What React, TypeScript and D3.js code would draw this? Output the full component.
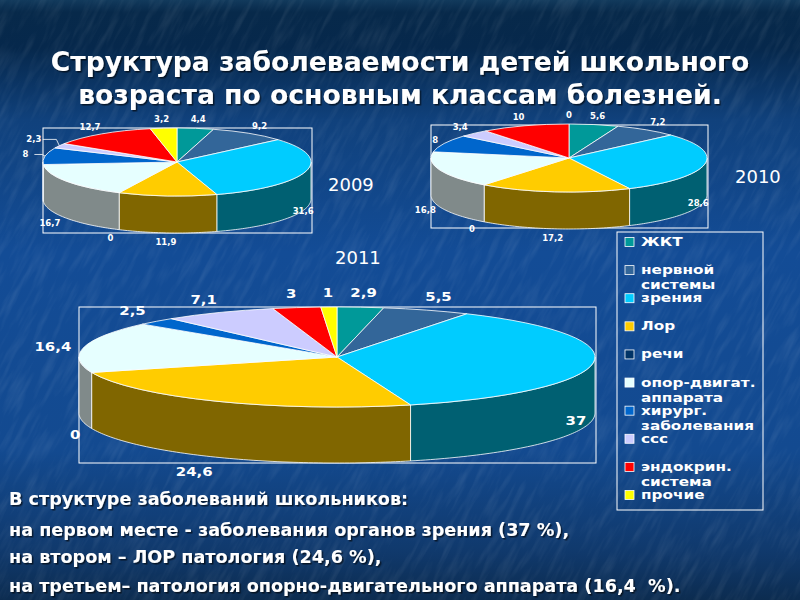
import * as d3 from "d3";

const W = 800;
const H = 600;
const FONT = "'DejaVu Sans', Verdana, sans-serif";

const COLORS = ["#009999", "#336699", "#00ccff", "#ffcc00", "#003366", "#e6ffff", "#0066cc", "#ccccff", "#ff0000", "#ffff00"];
const WALL_COLORS = ["#004d4d", "#1a334d", "#006072", "#806600", "#001a33", "#808a8a", "#003366", "#666680", "#800000", "#808000"];

const values2009 = [4.4, 9.2, 31.6, 11.9, 0, 16.7, 8, 2.3, 12.7, 3.2];
const values2010 = [5.6, 7.2, 28.6, 17.2, 0, 16.8, 8, 3.4, 10, 0];
const values2011 = [2.9, 5.5, 37, 24.6, 0, 16.4, 2.5, 7.1, 3, 1];

const legendEntries = [
  ["ЖКТ"],
  ["нервной", "системы"],
  ["зрения"],
  ["Лор"],
  ["речи"],
  ["опор-двигат.", "аппарата"],
  ["хирург.", "заболевания"],
  ["ссс"],
  ["эндокрин.", "система"],
  ["прочие"],
];

const titleLines = ["Структура заболеваемости детей школьного", "возраста по основным классам болезней."];
const bodyLines = [
  "В структуре заболеваний школьников:",
  "на первом месте - заболевания органов зрения (37 %),",
  "на втором – ЛОР патология (24,6 %),",
  "на третьем– патология опорно-двигательного аппарата (16,4  %).",
];

type PieProps = {
  values: number[];
  cx: number;
  cy: number;
  rx: number;
  ry: number;
  depth: number;
  frame: number[];
  kx: number;
  ky: number;
  fontSize: number;
  stretch: number;
  nudge?: Record<number, number[]>;
  leaders?: number[];
};

const pieGen = d3.pie<number>().sort(null).value((d) => d);

function Pie({ values, cx, cy, rx, ry, depth, frame, kx, ky, fontSize, stretch, nudge = {}, leaders = [] }: PieProps) {
  const slices = pieGen(values);
  const arc = d3.arc();
  const line = d3.line();
  const px = (a: number) => cx + rx * Math.sin(a);
  const py = (a: number) => cy - ry * Math.cos(a);

  return (
    <g>
      <rect x={frame[0]} y={frame[1]} width={frame[2]} height={frame[3]} fill="none" stroke="#fff" strokeWidth={1} />
      {slices.map((s, i) => {
        const a0 = Math.max(s.startAngle, Math.PI / 2);
        const a1 = Math.min(s.endAngle, (3 * Math.PI) / 2);
        if (a1 <= a0) return null;
        const angles = [...d3.range(a0, a1, 0.02), a1];
        const top = angles.map((a) => [px(a), py(a)] as [number, number]);
        const bottom = angles.map((a) => [px(a), py(a) + depth] as [number, number]).reverse();
        return <path key={i} d={line([...top, ...bottom]) + "Z"} fill={WALL_COLORS[i]} stroke="#fff" strokeWidth={0.8} />;
      })}
      {slices.map((s, i) =>
        s.value > 0 ? (
          <path
            key={i}
            d={arc({ innerRadius: 0, outerRadius: rx, startAngle: s.startAngle, endAngle: s.endAngle }) || ""}
            transform={`translate(${cx},${cy}) scale(1,${ry / rx})`}
            fill={COLORS[i]}
            stroke="#fff"
            strokeWidth={0.8}
            vectorEffect="non-scaling-stroke"
          />
        ) : null
      )}
      {slices.map((s, i) => {
        const mid = (s.startAngle + s.endAngle) / 2;
        const front = mid > Math.PI / 2 && mid < (3 * Math.PI) / 2;
        const n = nudge[i] || [0, 0];
        const x = cx + (rx + kx) * Math.sin(mid) + n[0];
        const y = cy - (ry + ky) * Math.cos(mid) + (front ? depth : 0) + n[1];
        return (
          <g key={i}>
            {leaders.includes(i) && (
              <path
                d={line([[x + 9, y], [px(mid) - 3, y], [px(mid), py(mid)]]) || ""}
                fill="none"
                stroke="#fff"
                strokeWidth={0.8}
              />
            )}
            <text
              transform={`translate(${x},${y}) scale(${stretch},1)`}
              textAnchor="middle"
              dominantBaseline="central"
              fontFamily={FONT}
              fontWeight="bold"
              fontSize={fontSize}
              fill="#fff"
            >
              {String(s.value).replace(".", ",")}
            </text>
          </g>
        );
      })}
    </g>
  );
}

export default function App() {
  const legendY = d3.scaleLinear().domain([0, 9]).range([242, 495]);
  return (
    <svg width={W} height={H} style={{ position: "absolute", left: 0, top: 0, display: "block" }}>
      <defs>
        <linearGradient id="bg" x1="0" y1="0" x2="0" y2="1">
          <stop offset="0" stopColor="#123a5c" />
          <stop offset="0.02" stopColor="#07294a" />
          <stop offset="0.08" stopColor="#06284c" />
          <stop offset="0.2" stopColor="#10417c" />
          <stop offset="0.42" stopColor="#134c96" />
          <stop offset="0.75" stopColor="#134a90" />
          <stop offset="0.92" stopColor="#10396c" />
          <stop offset="1" stopColor="#0c2c50" />
        </linearGradient>
        <filter id="streaks" x="0" y="0" width="100%" height="100%">
          <feTurbulence type="fractalNoise" baseFrequency="0.025 0.16" numOctaves={3} seed={4} />
          <feColorMatrix values="0 0 0 0 1  0 0 0 0 1  0 0 0 0 1  2.4 0 0 0 -1.05" />
        </filter>
        <filter id="shadow" x="-5%" y="-20%" width="110%" height="140%">
          <feDropShadow dx={1.5} dy={1.5} stdDeviation={0.6} floodColor="#000" floodOpacity={0.6} />
        </filter>
      </defs>

      <rect width={W} height={H} fill="url(#bg)" />
      <g transform={`rotate(-62 ${W / 2} ${H / 2})`} opacity={0.07}>
        <rect x={-200} y={-200} width={1200} height={1000} filter="url(#streaks)" />
      </g>

      <g filter="url(#shadow)" fontFamily={FONT} fontWeight="bold" fill="#fff">
        {titleLines.map((t, i) => (
          <text key={t} x={400} y={71 + i * 33} textAnchor="middle" fontSize={26.6}>
            {t}
          </text>
        ))}
      </g>

      <Pie values={values2009} cx={177} cy={162} rx={134} ry={34} depth={37} frame={[43, 128, 269, 105]} kx={20} ky={9} fontSize={8.5} stretch={1} leaders={[6, 7]} nudge={{ 2: [-22, 0], 7: [-8, -2] }} />
      <Pie values={values2010} cx={569} cy={158} rx={138} ry={34} depth={37} frame={[431, 125, 277, 103]} kx={20} ky={9} fontSize={8.5} stretch={1} nudge={{ 2: [-26, 0], 6: [9, 0], 5: [4, 0] }} />
      <Pie values={values2011} cx={337} cy={357} rx={258} ry={50} depth={56} frame={[79, 307, 517, 156]} kx={34} ky={14} fontSize={11.5} stretch={1.3} nudge={{ 2: [-51, 0], 3: [-7, 2], 4: [16, 2], 5: [2, 3] }} />

      <g fontFamily={FONT} fontSize={18} fill="#fff">
        <text x={328} y={191}>2009</text>
        <text x={735} y={183}>2010</text>
        <text x={335} y={264}>2011</text>
      </g>

      <rect x={617} y={232} width={146} height={278} fill="none" stroke="#fff" strokeWidth={1} />
      {legendEntries.map((lines, i) => (
        <g key={i}>
          <rect x={625} y={legendY(i) - 4.5} width={9} height={9} fill={COLORS[i]} stroke="#fff" strokeWidth={0.8} />
          {lines.map((t, j) => (
            <text
              key={t}
              transform={`translate(641,${legendY(i) + 4 + j * 15}) scale(1.33,1)`}
              fontFamily={FONT}
              fontWeight="bold"
              fontSize={11.5}
              fill="#fff"
            >
              {t}
            </text>
          ))}
        </g>
      ))}

      <g filter="url(#shadow)" fontFamily={FONT} fontWeight="bold" fontSize={17.6} fill="#fff">
        {bodyLines.map((t, i) => (
          <text key={t} x={9} y={[505, 536, 563, 592][i]} xmlSpace="preserve">
            {t}
          </text>
        ))}
      </g>
    </svg>
  );
}
